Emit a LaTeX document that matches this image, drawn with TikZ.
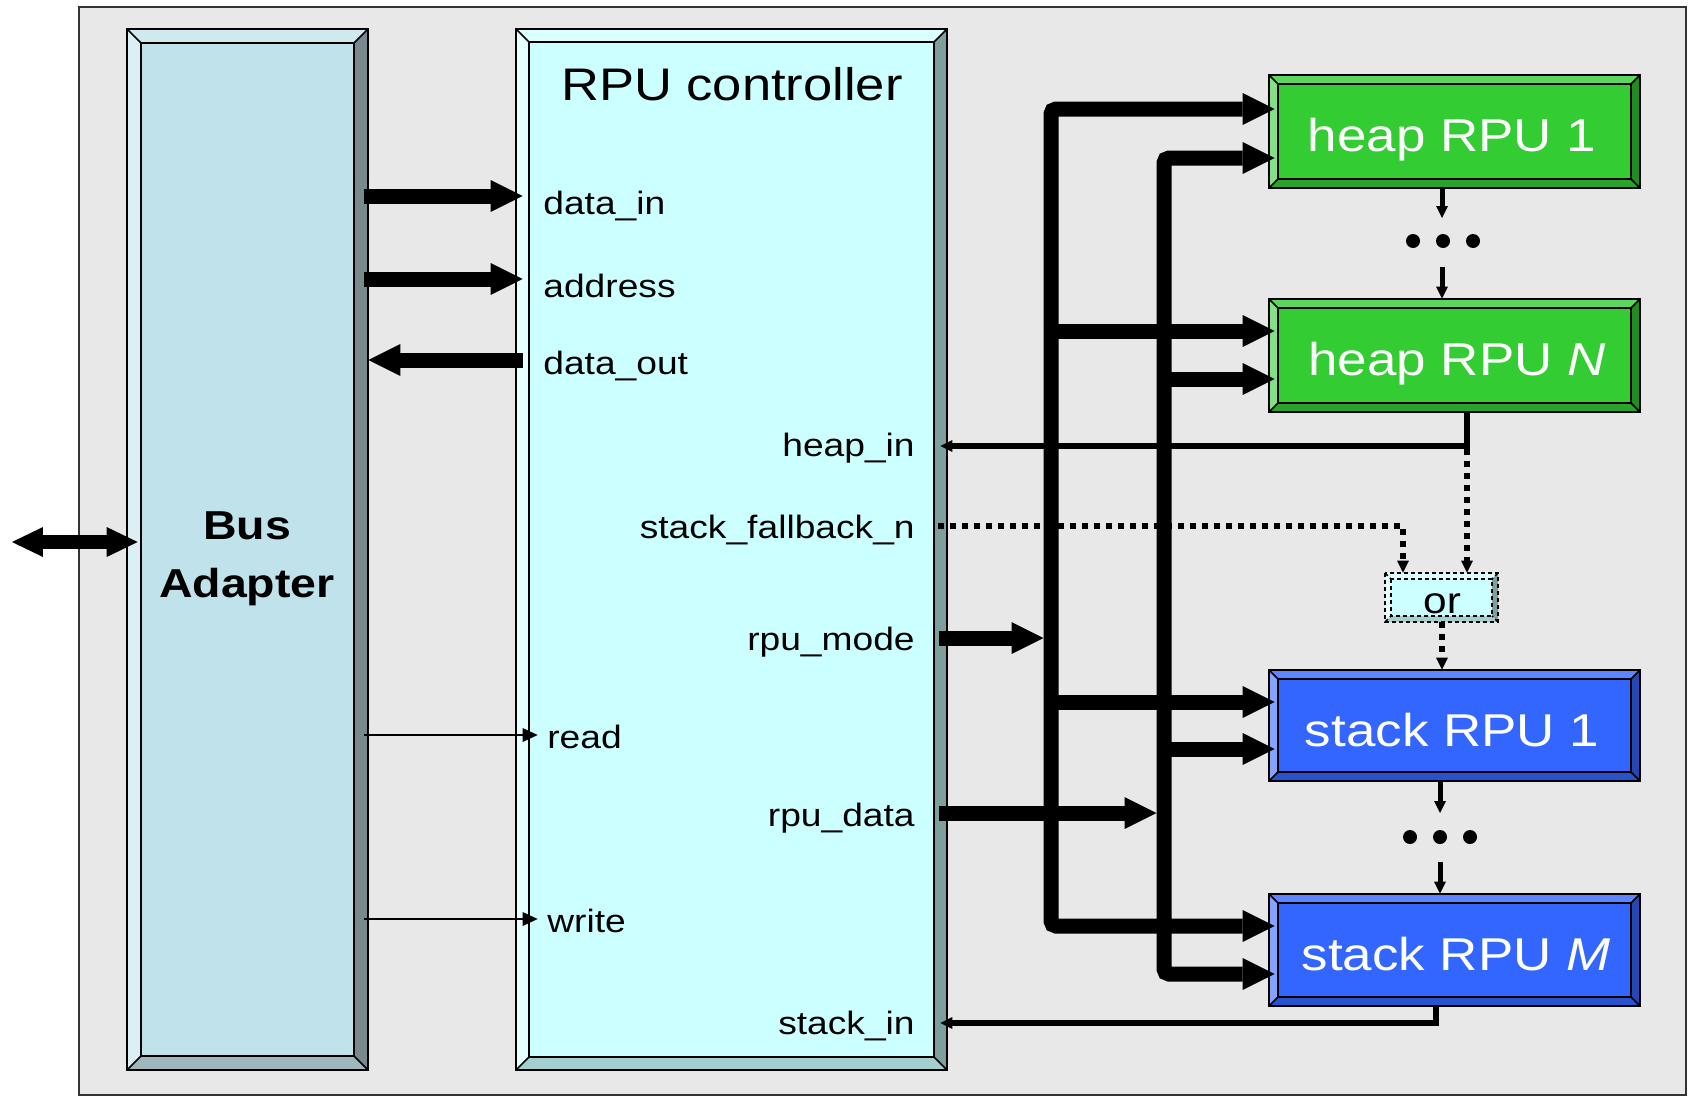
\documentclass[tikz,border=0pt]{standalone}
\usepackage{fontspec}
\setmainfont{Liberation Sans}[FakeStretch=1.15]
\usetikzlibrary{arrows.meta,fit}

% panel and box colours (M main face, T top, L left, R right, B bottom bevel)
\definecolor{panel}{HTML}{E8E8E8}
\definecolor{baM}{HTML}{C0E2EA}\definecolor{baT}{HTML}{D0E9EF}\definecolor{baL}{HTML}{DCEFF4}
\definecolor{baR}{HTML}{788A8E}\definecolor{baB}{HTML}{9FB7BC}
\definecolor{rcM}{HTML}{CCFFFF}\definecolor{rcT}{HTML}{D9FFFF}\definecolor{rcL}{HTML}{E6FFFF}
\definecolor{rcR}{HTML}{7F9F9F}\definecolor{rcB}{HTML}{A3CFCF}
\definecolor{hpM}{HTML}{33CC33}\definecolor{hpT}{HTML}{5CD65C}\definecolor{hpL}{HTML}{85E085}
\definecolor{hpR}{HTML}{228B22}\definecolor{hpB}{HTML}{29A329}
\definecolor{skM}{HTML}{3366FF}\definecolor{skT}{HTML}{5C85FF}\definecolor{skL}{HTML}{85A3FF}
\definecolor{skR}{HTML}{2447B3}\definecolor{skB}{HTML}{2952CC}

% bevelled box: name, x1, y1, x2, y2, bevel, colour prefix, outline style
\newcommand{\bevelbox}[8]{%
  \fill[#7T] (#2,#3) -- (#4,#3) -- ({#4-#6},{#3+#6}) -- ({#2+#6},{#3+#6}) -- cycle;
  \fill[#7L] (#2,#3) -- ({#2+#6},{#3+#6}) -- ({#2+#6},{#5-#6}) -- (#2,#5) -- cycle;
  \fill[#7R] (#4,#3) -- (#4,#5) -- ({#4-#6},{#5-#6}) -- ({#4-#6},{#3+#6}) -- cycle;
  \fill[#7B] (#2,#5) -- (#4,#5) -- ({#4-#6},{#5-#6}) -- ({#2+#6},{#5-#6}) -- cycle;
  \fill[#7M] ({#2+#6},{#3+#6}) rectangle ({#4-#6},{#5-#6});
  \draw[boxline,#8] (#2,#3) rectangle (#4,#5);
  \draw[boxline,#8] ({#2+#6},{#3+#6}) rectangle ({#4-#6},{#5-#6});
  \draw[boxline,#8] (#2,#3) -- ({#2+#6},{#3+#6}) (#4,#3) -- ({#4-#6},{#3+#6})
                    (#2,#5) -- ({#2+#6},{#5-#6}) (#4,#5) -- ({#4-#6},{#5-#6});
  \node[fit={(#2,#3) (#4,#5)}, inner sep=0pt] (#1) {};
}

\tikzset{
  BigHead/.tip={Triangle[length=0.64cm,width=0.64cm,line width=0pt]},
  ExtHead/.tip={Triangle[length=0.62cm,width=0.6cm,line width=0pt]},
  ThinHead/.tip={Triangle[length=0.3cm,width=0.28cm,line width=0pt]},
  TinyHead/.tip={Triangle[length=0.24cm,width=0.24cm,line width=0pt]},
  boxline/.style={line width=0.03cm, draw=black},
  fat/.style={line width=0.3cm},
  wire/.style={line width=0.12cm, -TinyHead},
  hair/.style={line width=0.03cm, -ThinHead},
  chainarrow/.style={line width=0.1cm, -TinyHead},
  dotwire/.style={line width=0.12cm, dash pattern=on 0.12cm off 0.12cm, -TinyHead},
  lbl/.style={inner sep=0pt, font=\fontsize{18.4}{22}\selectfont},
  unitlbl/.style={inner sep=0pt, text=white, font=\fontsize{26.2}{31}\selectfont},
}

\begin{document}
\begin{tikzpicture}[x=0.02cm, y=-0.02cm]
  \fill[white] (0,0) rectangle (1689,1096);
  \useasboundingbox (0,0) rectangle (1689,1096);
  \filldraw[fill=panel, draw=black!80, line width=0.03cm] (79,7) rectangle (1686,1095);

  % boxes
  \bevelbox{bus}{127}{29}{368}{1070}{14}{ba}{solid}
  \bevelbox{ctrl}{516}{29}{947}{1070}{13}{rc}{solid}
  \bevelbox{heapA}{1269}{75}{1640}{188}{9}{hp}{solid}
  \bevelbox{heapN}{1269}{299}{1640}{412}{9}{hp}{solid}
  \bevelbox{stackA}{1269}{670}{1640}{781}{9}{sk}{solid}
  \bevelbox{stackM}{1269}{894}{1640}{1006}{9}{sk}{solid}
  \bevelbox{orbox}{1385}{573}{1498}{622}{6}{rc}{dash pattern=on 0.08cm off 0.06cm}

  % box titles
  \node[inner sep=0pt, anchor=base, font=\fontsize{26}{30}\selectfont] at (732,100) {RPU controller};
  \node[inner sep=0pt, anchor=base, font=\fontsize{23}{28}\selectfont\bfseries] at (247,539) {Bus};
  \node[inner sep=0pt, anchor=base, font=\fontsize{23}{28}\selectfont\bfseries] at (247,597) {Adapter};
  \node[unitlbl, anchor=base] at (1452,151) {heap RPU 1};
  \node[unitlbl, anchor=base] at (1457,375) {heap RPU \textit{N}};
  \node[unitlbl, anchor=base] at (1452,746) {stack RPU 1};
  \node[unitlbl, anchor=base] at (1456,970) {stack RPU \textit{M}};
  \node[inner sep=0pt, anchor=base, font=\fontsize{21}{25}\selectfont] at (1442,613) {or};

  % controller port labels
  \node[lbl, anchor=base west] at (543,214) {data\_in};
  \node[lbl, anchor=base west] at (543,297) {address};
  \node[lbl, anchor=base west] at (543,374) {data\_out};
  \node[lbl, anchor=base west] at (547,748) {read};
  \node[lbl, anchor=base west] at (547,932) {write};
  \node[lbl, anchor=base east] at (915,456) {heap\_in};
  \node[lbl, anchor=base east] at (915,538) {stack\_fallback\_n};
  \node[lbl, anchor=base east] at (915,650) {rpu\_mode};
  \node[lbl, anchor=base east] at (915,826) {rpu\_data};
  \node[lbl, anchor=base east] at (915,1034) {stack\_in};

  % external bus
  \coordinate (ext) at (12,542);
  \draw[line width=0.28cm, ExtHead-ExtHead] (ext) -- ([xshift=0.22cm]bus.west |- ext);

  % bus adapter <-> controller
  \draw[fat, -BigHead] ([xshift=-0.08cm]bus.east |- 0,196) -- ([xshift=0.14cm]ctrl.west |- 0,196);
  \draw[fat, -BigHead] ([xshift=-0.08cm]bus.east |- 0,279) -- ([xshift=0.14cm]ctrl.west |- 0,279);
  \draw[fat, -BigHead] ([xshift=0.14cm]ctrl.west |- 0,360) -- (bus.east |- 0,360);
  \draw[hair] ([xshift=-0.08cm]bus.east |- 0,735) -- ([xshift=0.44cm]ctrl.west |- 0,735);
  \draw[hair] ([xshift=-0.08cm]bus.east |- 0,919) -- ([xshift=0.44cm]ctrl.west |- 0,919);

  % mode and data spines to the RPUs
  \coordinate (spineA) at (1051,0);
  \coordinate (spineB) at (1164,0);
  \draw[fat, BigHead-BigHead, rounded corners=0.1cm]
    ([xshift=0.12cm]heapA.west |- 0,109) -- (spineA |- 0,109) -- (spineA |- 0,926)
    -- ([xshift=0.12cm]stackM.west |- 0,926);
  \draw[fat, BigHead-BigHead, rounded corners=0.1cm]
    ([xshift=0.12cm]heapA.west |- 0,158) -- (spineB |- 0,158) -- (spineB |- 0,974)
    -- ([xshift=0.12cm]stackM.west |- 0,974);
  \draw[fat, -BigHead] ([xshift=-0.15cm]spineA |- 0,331) -- ([xshift=0.12cm]heapN.west |- 0,331);
  \draw[fat, -BigHead] ([xshift=-0.15cm]spineB |- 0,379) -- ([xshift=0.12cm]heapN.west |- 0,379);
  \draw[fat, -BigHead] ([xshift=-0.15cm]spineA |- 0,702) -- ([xshift=0.12cm]stackA.west |- 0,702);
  \draw[fat, -BigHead] ([xshift=-0.15cm]spineB |- 0,749) -- ([xshift=0.12cm]stackA.west |- 0,749);
  \draw[fat, -BigHead] ([xshift=-0.16cm]ctrl.east |- 0,638) -- ([xshift=-0.15cm]spineA |- 0,638);
  \draw[fat, -BigHead] ([xshift=-0.16cm]ctrl.east |- 0,813) -- ([xshift=-0.15cm]spineB |- 0,813);

  % chains of RPUs
  \coordinate (chainH) at (1442,0);
  \coordinate (chainS) at (1440,0);
  \draw[chainarrow] (heapA.south -| chainH) -- (chainH |- 0,218);
  \draw[chainarrow] (chainH |- 0,267) -- (heapN.north -| chainH);
  \foreach \dx in {1413,1443,1473} \fill (\dx,241) circle[radius=0.14cm];
  \draw[chainarrow] (stackA.south -| chainS) -- (chainS |- 0,813);
  \draw[chainarrow] (chainS |- 0,862) -- (stackM.north -| chainS);
  \foreach \dx in {1410,1440,1470} \fill (\dx,837) circle[radius=0.14cm];

  % status returns to the controller
  \coordinate (heapTap) at (1467,446);
  \draw[wire] (heapN.south -| heapTap) -- (heapTap) -- ([xshift=-0.14cm]ctrl.east |- heapTap);
  \coordinate (stackTap) at (1436,1023);
  \draw[wire] (stackM.south -| stackTap) -- (stackTap) -- ([xshift=-0.14cm]ctrl.east |- stackTap);

  % fallback selection
  \draw[dotwire] ([yshift=-0.06cm]heapTap) -- (orbox.north -| heapTap);
  \coordinate (fbTurn) at (1403,526);
  \draw[dotwire] ([xshift=-0.18cm]ctrl.east |- fbTurn) -- (fbTurn) -- (orbox.north -| fbTurn);
  \draw[dotwire] (orbox.south -| 1442,0) -- (stackA.north -| 1442,0);
\end{tikzpicture}
\end{document}
